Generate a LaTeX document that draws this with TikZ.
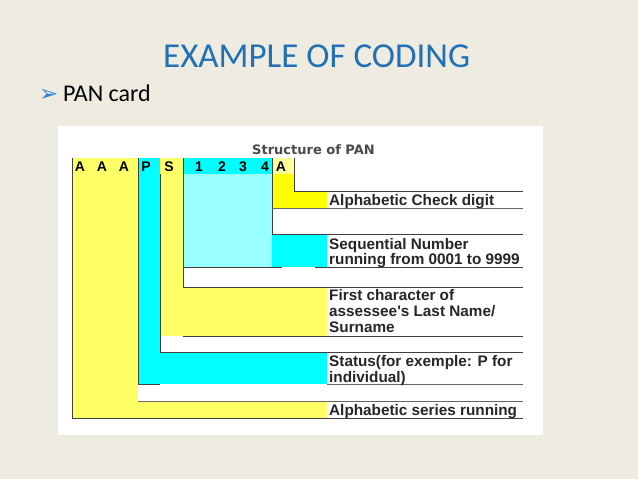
\documentclass[tikz,border=0pt]{standalone}
\usepackage{fontspec}
\setmainfont{Carlito}
\newfontfamily\fieldfont{Liberation Sans}
\newfontfamily\headfont{DejaVu Sans}
\usetikzlibrary{positioning}
\definecolor{slidebg}{HTML}{EEECE1}
\definecolor{titleblue}{HTML}{2270B6}
\definecolor{bulletblue}{HTML}{2E86D6}
\definecolor{panyellow}{HTML}{FFFF66}
\definecolor{panbright}{HTML}{FFFF00}
\definecolor{panpale}{HTML}{FFFF99}
\definecolor{pancyan}{HTML}{00FFFF}
\definecolor{panlight}{HTML}{99FFFF}
\definecolor{pangray}{HTML}{4A4A4A}

\begin{document}
\begin{tikzpicture}[x=1pt, y=-1pt,
    fieldtext/.style={anchor=base west, inner sep=0pt, text=black!85,
      font=\fieldfont\bfseries\fontsize{15.3}{16}\selectfont},
    charcell/.style={anchor=base, inner sep=0pt,
      font=\fieldfont\bfseries\fontsize{14}{15}\selectfont},
    rule/.style={draw=black!75, line width=0.9pt}]
    % Slide and white panel
    \fill[slidebg] (0,0) rectangle (638,479);
    \fill[white] (58,126) rectangle (543,435);

    % Title and bullet
    \node[anchor=base west, inner sep=0pt, text=titleblue, font=\fontsize{35}{40}\selectfont] (title) at (163,67) {EXAMPLE OF CODING};
    \node[anchor=base west, inner sep=0pt, text=bulletblue, font=\headfont\fontsize{23}{26}\selectfont] (bullet) at (39,101) {➢};
    \node[anchor=base west, inner sep=0pt, font=\fontsize{24}{28}\selectfont] (pancard) at (63,101.7) {PAN card};

    % Coloured fields
    \fill[panyellow] (72,158) rectangle (138,418);
    \fill[panyellow] (138,401) rectangle (327,418);
    \fill[pancyan] (138,158) rectangle (160,384);
    \fill[pancyan] (160,352) rectangle (327,384);
    \fill[panyellow] (160,158) rectangle (183,336);
    \fill[panyellow] (183,287) rectangle (327,336);
    \fill[pancyan] (183,158) rectangle (272,174);
    \fill[panlight] (183,174) rectangle (272,267);
    \fill[pancyan] (272,234) rectangle (327,267);
    \fill[panpale] (272,158) rectangle (294,174);
    \fill[panbright] (272,174) rectangle (294,208);
    \fill[panbright] (294,191) rectangle (327,208);

    % Leader lines
    \draw[rule] (72,158) -- (72,418) -- (523,418);
    \draw[rule] (138,158) -- (138,384) -- (160,384);
    \draw[rule, draw=black!60] (327,384) -- (523,384);
    \draw[rule, draw=black!60] (138,401) -- (523,401);
    \draw[rule] (160,174) -- (160,352) -- (523,352);
    \draw[rule] (183,336) -- (523,336);
    \draw[rule] (183,158) -- (183,287) -- (523,287);
    \draw[rule] (183,267) -- (282,267);
    \draw[rule] (315,267) -- (523,267);
    \draw[rule] (272,158) -- (272,234) -- (523,234);
    \draw[rule, draw=black!60] (272,208) -- (523,208);
    \draw[rule] (294,158) -- (294,191) -- (523,191);

    % Header
    \node[anchor=base west, inner sep=0pt, text=pangray, font=\headfont\bfseries\fontsize{13}{15}\selectfont] (head) at (252,154) {Structure of PAN};
    \foreach \cx/\ch [count=\i] in {80/A, 102/A, 124/A, 146/P, 169/S, 199/1, 222/2, 243/3, 265/4, 281/A}
        \node[charcell] (c\i) at (\cx,171) {\ch};

    % Field descriptions
    \node[fieldtext] (check) at (329,205) {Alphabetic Check digit};
    \node[fieldtext] (seq) at (329,249) {Sequential Number};
    \node[fieldtext] (seqb) at (329,264) {running from 0001 to 9999};
    \node[fieldtext] (first) at (329,300) {First character of};
    \node[fieldtext] (firstb) at (329,316) {assessee's Last Name/};
    \node[fieldtext] (firstc) at (329,332) {Surname};
    \node[fieldtext] (status) at (329,366) {Status(for exemple: P for};
    \node[fieldtext] (statusb) at (329,382) {individual)};
    \node[fieldtext] (series) at (329,415) {Alphabetic series running};
\end{tikzpicture}
\end{document}
